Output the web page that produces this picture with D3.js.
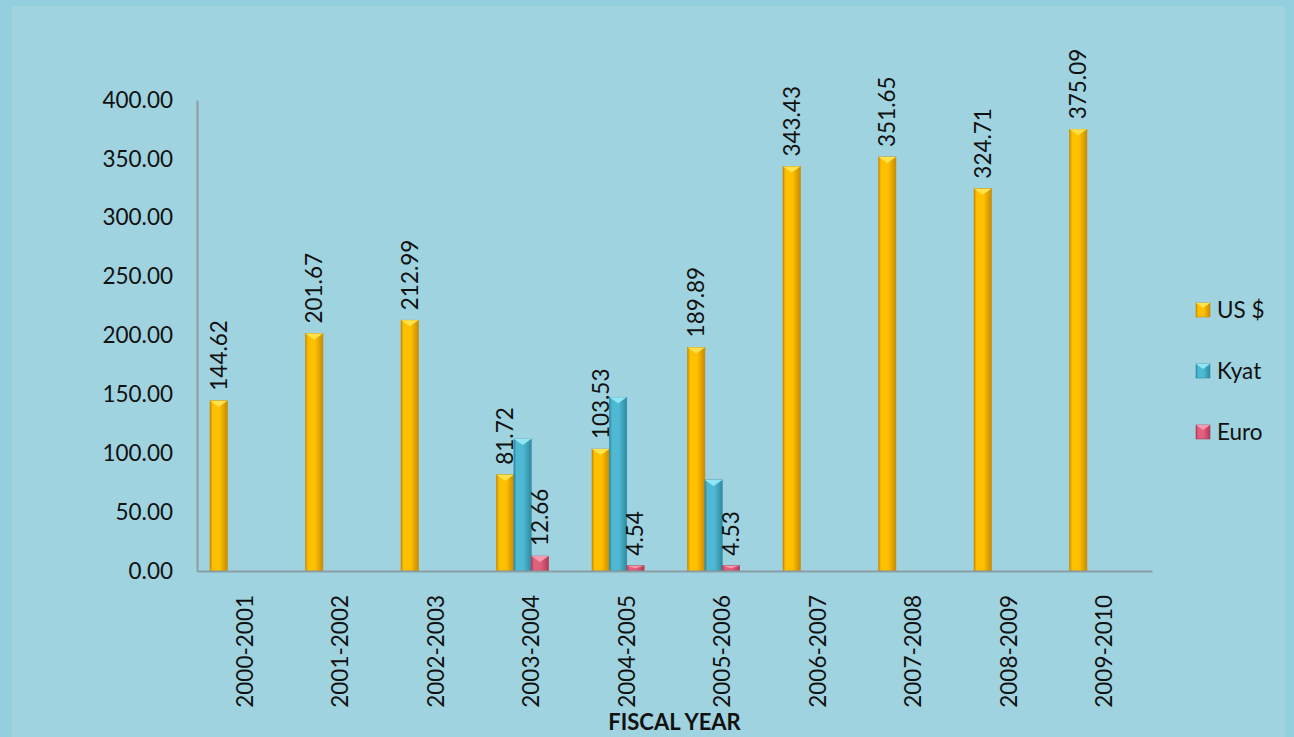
<!DOCTYPE html>
<html>
<head>
<meta charset="utf-8">
<script src="https://cdn.jsdelivr.net/npm/d3@7"></script>
<style>
  body { margin: 0; background: #92cfdf; }
  svg { display: block; font-family: Lato, "Open Sans", sans-serif; }
</style>
</head>
<body>
<div class="module"></div>
<script>
const years = ["2000-2001","2001-2002","2002-2003","2003-2004","2004-2005",
               "2005-2006","2006-2007","2007-2008","2008-2009","2009-2010"];
const usd  = [144.62, 201.67, 212.99, 81.72, 103.53, 189.89, 343.43, 351.65, 324.71, 375.09];
const kyat = [null, null, null, 112, 147.5, 77.3, null, null, null, null];
const euro = [null, null, null, 12.66, 4.54, 4.53, null, null, null, null];
const yTicks = [0, 50, 100, 150, 200, 250, 300, 350, 400];

const series = [
  {name: "US $", values: usd,  labels: true,  light: "#ffe34d", mid: "#ffc000", dark: "#c98a00"},
  {name: "Kyat", values: kyat, labels: false, light: "#8fe6f5", mid: "#4fb8d2", dark: "#2f8aa2"},
  {name: "Euro", values: euro, labels: true,  light: "#f59ab0", mid: "#e0607e", dark: "#b03a58"}
];

const FS = 22.5;
const W = 1294, H = 737;
const margin = {top: 100, left: 197, right: 142, bottom: 166};
const width = W - margin.left - margin.right,
      height = H - margin.top - margin.bottom;

const svg = d3.select(".module")
  .append("svg")
    .attr("width", W)
    .attr("height", H);

// chart panel
svg.append("rect")
  .attr("x", 12).attr("y", 6)
  .attr("width", 1273).attr("height", H - 6)
  .attr("fill", "#a0d3e0");

const defs = svg.append("defs");
series.forEach((s, i) => {
  const g = defs.append("linearGradient")
    .attr("id", "grad" + i)
    .attr("x1", "0").attr("x2", "1").attr("y1", "0").attr("y2", "0");
  g.append("stop").attr("offset", "0%").attr("stop-color", s.dark);
  g.append("stop").attr("offset", "15%").attr("stop-color", s.mid);
  g.append("stop").attr("offset", "55%").attr("stop-color", s.mid);
  g.append("stop").attr("offset", "100%").attr("stop-color", s.dark);
});

const plot = svg.append("g")
  .attr("transform", "translate(" + margin.left + "," + margin.top + ")");

const x0 = d3.scaleBand()
  .domain(years)
  .range([0, width])
  .padding(0);

// four slots (Excel group with 150% gap); last slot is empty
const x1 = d3.scaleBand()
  .domain(["US $", "Kyat", "Euro", "_"])
  .range([0, x0.bandwidth()])
  .paddingInner(0)
  .paddingOuter(0.75);

const y = d3.scaleLinear()
  .domain([0, 400])
  .range([height, 0]);

// y axis
const yAxis = plot.append("g")
  .call(d3.axisLeft(y).tickValues(yTicks).tickFormat(d3.format(".2f")).tickSize(0).tickPadding(24));
yAxis.select(".domain").attr("stroke", "#8a9ea4").attr("stroke-width", 2);
yAxis.selectAll("text")
  .attr("font-size", FS)
  .attr("font-family", "Lato, 'Open Sans', sans-serif")
  .attr("fill", "#111");

// bars
series.forEach((s, i) => {
  const w = x1.bandwidth();
  const data = years.map((yr, j) => ({yr: yr, v: s.values[j]})).filter(d => d.v != null);
  const grp = plot.append("g");

  grp.selectAll("rect")
    .data(data)
    .enter()
    .append("rect")
      .attr("x", d => x0(d.yr) + x1(s.name))
      .attr("y", d => y(d.v))
      .attr("width", w)
      .attr("height", d => height - y(d.v))
      .attr("fill", "url(#grad" + i + ")")
      .attr("stroke", s.dark)
      .attr("stroke-width", 0.6);

  // bevel highlight on top
  grp.selectAll("path")
    .data(data)
    .enter()
    .append("path")
      .attr("d", d => {
        const bx = x0(d.yr) + x1(s.name), by = y(d.v);
        const b = Math.min(6, (height - y(d.v)) / 2);
        return "M" + bx + "," + by + "L" + (bx + w) + "," + by +
               "L" + (bx + w / 2) + "," + (by + b) + "Z";
      })
      .attr("fill", s.light);

  if (s.labels) {
    grp.selectAll("text")
      .data(data)
      .enter()
      .append("text")
        .attr("transform", d => "translate(" + (x0(d.yr) + x1(s.name) + w / 2 + 8) + "," + (y(d.v) - 10) + ") rotate(-90)")
        .attr("font-size", FS)
        .attr("fill", "#111")
        .text(d => d3.format(".2f")(d.v));
  }
});

// x axis
const xAxis = plot.append("g")
  .attr("transform", "translate(0," + height + ")")
  .call(d3.axisBottom(x0).tickSize(0).tickPadding(0));
xAxis.select(".domain").attr("stroke", "#8a9ea4").attr("stroke-width", 2);
xAxis.selectAll("text")
  .attr("font-size", FS)
  .attr("font-family", "Lato, 'Open Sans', sans-serif")
  .attr("fill", "#111")
  .attr("text-anchor", "end")
  .attr("dy", null)
  .attr("transform", "translate(8,24) rotate(-90)");

svg.append("text")
  .attr("x", margin.left + width / 2)
  .attr("y", 730)
  .attr("text-anchor", "middle")
  .attr("font-size", 22)
  .attr("font-weight", "bold")
  .attr("fill", "#111")
  .text("FISCAL YEAR");

// legend
const legend = svg.append("g")
  .attr("transform", "translate(1196,303)");
series.forEach((s, i) => {
  const row = legend.append("g").attr("transform", "translate(0," + i * 61 + ")");
  row.append("rect")
    .attr("width", 14).attr("height", 14)
    .attr("fill", "url(#grad" + i + ")")
    .attr("stroke", s.dark).attr("stroke-width", 0.6);
  row.append("path")
    .attr("d", "M0,0L14,0L7,5Z")
    .attr("fill", s.light);
  row.append("text")
    .attr("x", 21).attr("y", 15)
    .attr("font-size", FS)
    .attr("fill", "#111")
    .text(s.name);
});
</script>
</body>
</html>
